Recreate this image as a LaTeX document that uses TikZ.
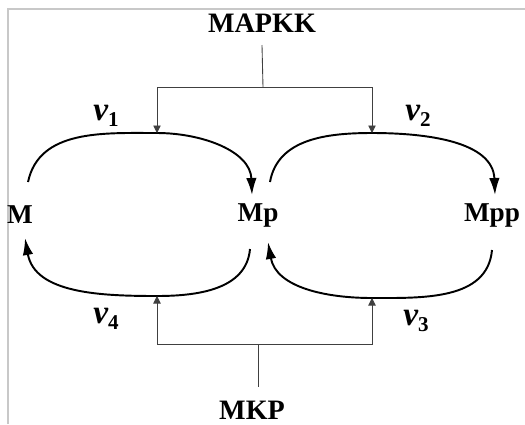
\documentclass[tikz,border=0pt]{standalone}
\usepackage{fontspec}
\setmainfont{Liberation Serif}
\usetikzlibrary{arrows.meta}
\definecolor{frameColor}{RGB}{200,200,200}
\tikzstyle{species} = [font=\fontsize{15.5}{17}\selectfont\bfseries, inner sep=2pt]
\tikzstyle{enzyme} = [font=\fontsize{16}{18}\selectfont\bfseries, inner sep=1pt]
\tikzstyle{rateText} = [font=\fontsize{19}{21}\selectfont\bfseries\itshape]
\tikzstyle{reaction} = [color=black, line width=1.1pt, -{Latex[length=3.4mm, width=2.1mm]}]
\tikzstyle{catalysis} = [color=black!75, line width=0.5pt]
\tikzstyle{catalysisArrow} = [catalysis, -{Triangle[length=1.5mm, width=1.5mm]}]
\newcommand{\rate}[1]{\textbf{\textit{v}}\raisebox{-0.4ex}{\fontsize{12}{13}\selectfont\bfseries\upshape #1}}

\begin{document}
\begin{tikzpicture}[x = 0.02cm, y = 0.02cm]
  \useasboundingbox (0,0) rectangle (525,-424);
  \draw [color=frameColor, line width=0.8pt] (8,-424) -- (8,-9) -- (525,-9);

  % species
  \node [species] (M) at (20,-215) {M};
  \node [species] (Mp) at (258,-215) {Mp};
  \node [species] (Mpp) at (492,-215) {Mpp};
  \node [enzyme] (MAPKK) at (262,-23) {MAPKK};
  \node [enzyme] (MKP) at (252,-410) {MKP};

  % points where the enzymes act
  \coordinate (t1) at (157,-133);
  \coordinate (t2) at (372,-133);
  \coordinate (b1) at (157,-296);
  \coordinate (b2) at (372,-298);
  \coordinate (kk) at (263,-87);
  \coordinate (kp) at (258,-344);

  % phosphorylation
  \draw [reaction] ([shift={(8,33)}]M.center) to [out=78, in=180] (t1)
        to [out=0, in=92] ([shift={(-6,20)}]Mp.center);
  \draw [reaction] ([shift={(12,33)}]Mp.center) to [out=80, in=180] (t2)
        to [out=0, in=92] ([shift={(3,20)}]Mpp.center);

  % dephosphorylation
  \draw [reaction] ([shift={(-8,-34)}]Mp.center) to [out=-95, in=0] (b1)
        to [out=180, in=-80] ([shift={(5,-23)}]M.center);
  \draw [reaction] ([shift={(0,-35)}]Mpp.center) to [out=-95, in=0] (b2)
        to [out=180, in=-80] ([shift={(10,-27)}]Mp.center);

  % MAPKK
  \draw [catalysis] (MAPKK.south |- 0,-45) -- (kk);
  \draw [catalysisArrow] (kk) -| (t1);
  \draw [catalysisArrow] (kk) -| (t2);

  % MKP
  \draw [catalysis] (kp) -- (kp |- 0,-387);
  \draw [catalysisArrow] (kp) -| (b1);
  \draw [catalysisArrow] (kp) -| (b2);

  % rates
  \node [rateText] (v1) at (106,-116) {\rate{1}};
  \node [rateText] (v2) at (418,-116) {\rate{2}};
  \node [rateText] (v3) at (416,-321) {\rate{3}};
  \node [rateText] (v4) at (106,-319) {\rate{4}};
\end{tikzpicture}
\end{document}
